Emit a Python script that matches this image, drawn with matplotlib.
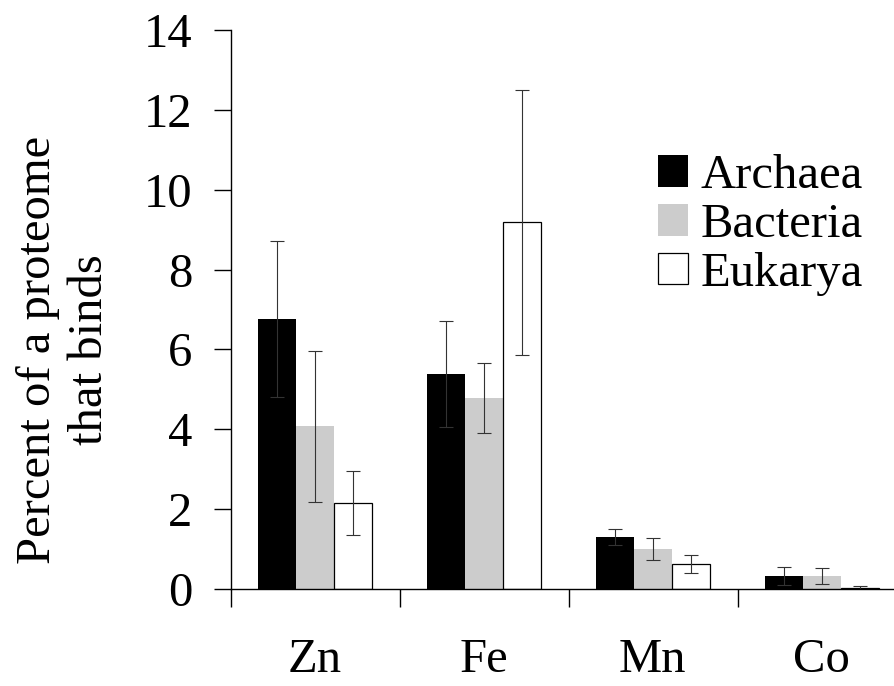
import numpy as np
import matplotlib
matplotlib.use('Agg')
import matplotlib.pyplot as plt

plt.rcParams['font.family'] = ['Liberation Serif', 'DejaVu Serif']

metals = ['Zn', 'Fe', 'Mn', 'Co']
domains = ['Archaea', 'Bacteria', 'Eukarya']

archaea = [6.76, 5.38, 1.31, 0.33]
archaea_err = [1.95, 1.33, 0.20, 0.22]
bacteria = [4.07, 4.78, 1.00, 0.33]
bacteria_err = [1.88, 0.88, 0.27, 0.20]
eukarya = [2.15, 9.18, 0.62, 0.03]
eukarya_err = [0.80, 3.32, 0.23, 0.05]

fig = plt.figure(figsize=(8.95, 6.86), dpi=100)
# axes runs a little past the right edge of the figure
ax = fig.add_axes([231 / 895, 97 / 686, 676 / 895, 559 / 686])

x = np.arange(len(metals)) + 0.495
w = 0.225
err_kw = dict(ecolor='#333333', elinewidth=0.8, capsize=5, capthick=0.8)

ax.bar(x - w, archaea, w, yerr=archaea_err, color='black', linewidth=0,
       label=domains[0], error_kw=err_kw)
ax.bar(x, bacteria, w, yerr=bacteria_err, color='#cccccc', linewidth=0,
       label=domains[1], error_kw=err_kw)
ax.bar(x + w, eukarya, w, yerr=eukarya_err, color='white', edgecolor='black',
       linewidth=0.9, label=domains[2], error_kw=err_kw)

ax.set_xlim(0, 4)
ax.set_ylim(0, 14)
ax.set_yticks(np.arange(0, 15, 2))
ax.set_xticks(np.arange(0, 5))
ax.set_xticklabels([])
ax.set_xticks(x, minor=True)
ax.set_xticklabels(metals, minor=True)

ax.tick_params(axis='y', which='major', length=12, width=1.0, pad=16,
               labelsize=35, direction='out')
ax.tick_params(axis='x', which='major', length=13, width=1.0, direction='out')
ax.tick_params(axis='x', which='minor', length=0, pad=35, labelsize=35)

for side in ['top', 'right']:
    ax.spines[side].set_visible(False)
for side in ['left', 'bottom']:
    ax.spines[side].set_linewidth(1.0)

fig.text(64 / 895, 1 - 350 / 686, 'Percent of a proteome\nthat binds',
         rotation=90, ha='center', va='center', multialignment='center',
         fontsize=35, linespacing=1.25)

ax.legend(loc='upper left', bbox_to_anchor=(658 / 895, 1 - 154 / 686),
          bbox_transform=fig.transFigure, frameon=False, fontsize=35,
          handlelength=0.62, handleheight=0.62, handletextpad=0.25,
          labelspacing=0.1, borderaxespad=0, borderpad=0)

fig.savefig('out.png', dpi=100)
